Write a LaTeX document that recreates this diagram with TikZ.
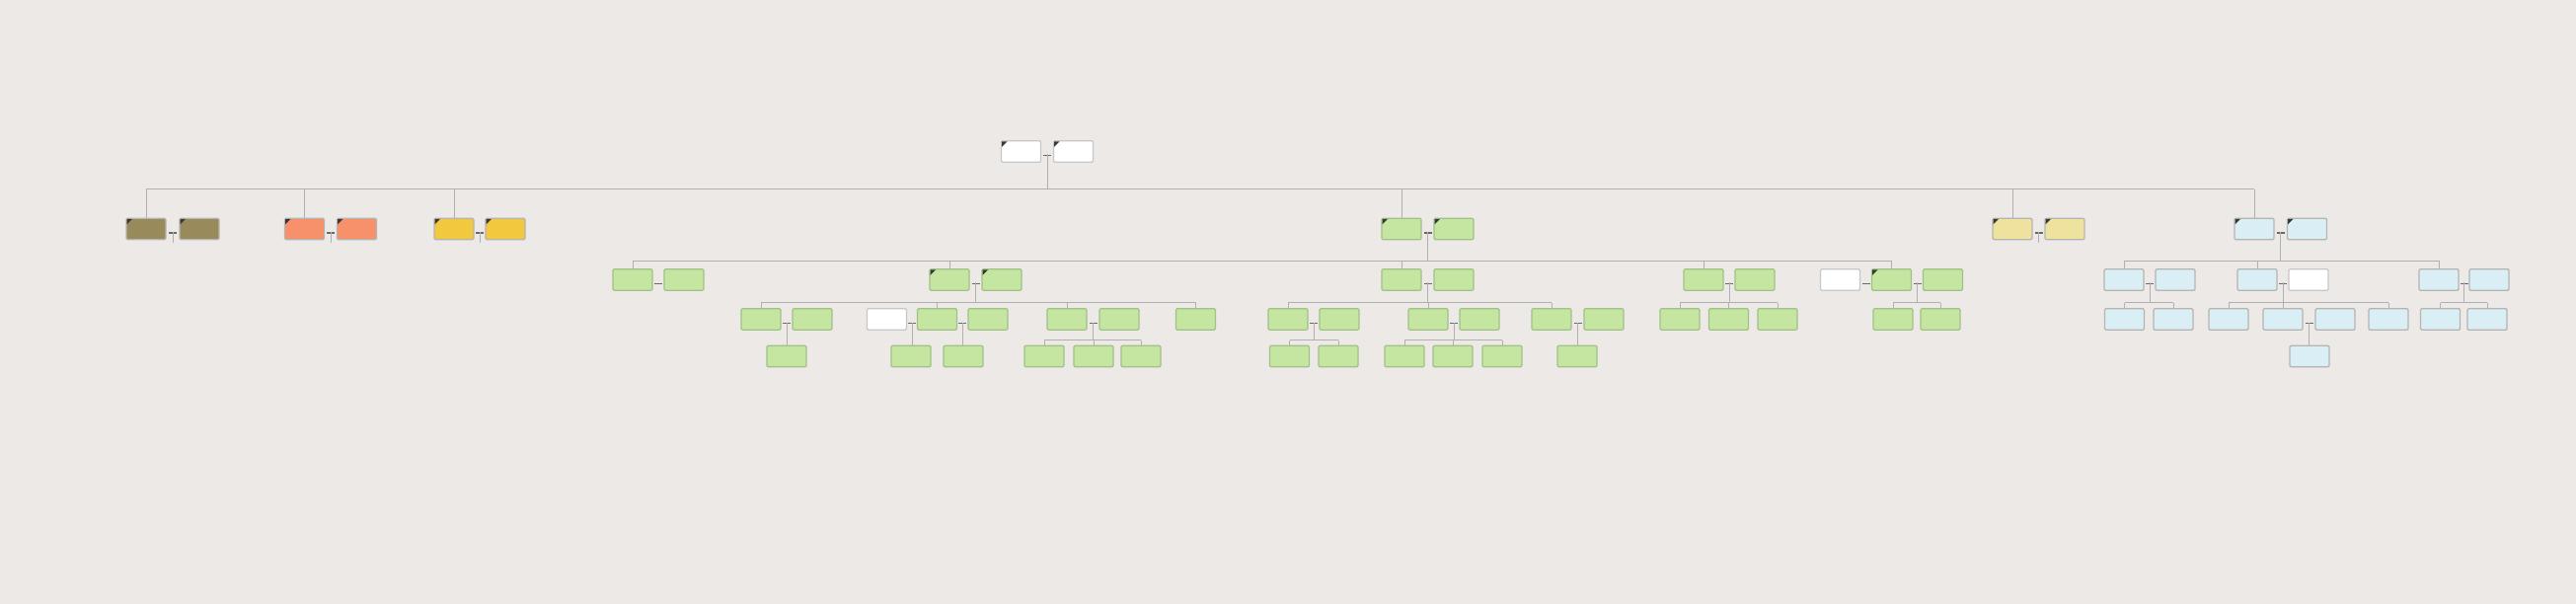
\documentclass[tikz,border=0pt]{standalone}
\usetikzlibrary{calc}
\definecolor{bgc}{RGB}{236,233,230}
\definecolor{lnc}{RGB}{176,176,176}
\definecolor{dshc}{RGB}{105,105,105}
\definecolor{mkc}{RGB}{55,55,55}
\definecolor{gfill}{RGB}{197,230,160}
\definecolor{gbdr}{RGB}{162,192,138}
\definecolor{brfill}{RGB}{152,138,90}
\definecolor{orfill}{RGB}{247,145,108}
\definecolor{yefill}{RGB}{242,200,62}
\definecolor{pyfill}{RGB}{239,226,158}
\definecolor{blfill}{RGB}{218,238,246}
\definecolor{gbd}{RGB}{182,180,176}
\tikzset{
  box/.style={draw=gbd, line width=1.3pt, rounded corners=1.2pt, minimum width=40pt,
    minimum height=21.5pt, inner sep=0pt, outer sep=0pt},
  gb/.style={box, fill=gfill, draw=gbdr},
  brb/.style={box, fill=brfill},
  orb/.style={box, fill=orfill},
  yeb/.style={box, fill=yefill},
  pyb/.style={box, fill=pyfill},
  blb/.style={box, fill=blfill},
  wb/.style={box, fill=white, draw=black!22},
  ln/.style={draw=lnc, line width=1pt},
  cpl/.style={draw=dshc, line width=1.2pt},
}
\newcommand\mk[1]{\fill[mkc] ([shift={(0.6,0.6)}]#1.north west) -- ++(5.5,0) -- ++(-5.5,5.5) -- cycle;}
\newcommand\cpla[3]{\coordinate (#3) at ($(#1.east)!0.5!(#2.west)+(0,4)$);
  \draw[cpl] ([xshift=-4pt]#3) -- ([xshift=4pt]#3);}
\begin{document}
\begin{tikzpicture}[x=1pt,y=-1pt]
\useasboundingbox (0,0) rectangle (2610,612);
\fill[bgc] (0,0) rectangle (2610,612);
% buses
\coordinate (bus0) at (0,192);
\coordinate (bus1) at (0,264.3);
\coordinate (bus2) at (0,306.7);
\coordinate (bus3) at (0,344.5);
% level 0
\node[wb] (r1) at (1034.5,153.5) {};
\node[wb] (r2) at (1087.5,153.5) {};
% level 1
\node[brb] (a1) at (148,232) {};
\node[brb] (a2) at (202,232) {};
\node[orb] (b1) at (308.5,232) {};
\node[orb] (b2) at (361.5,232) {};
\node[yeb] (c1) at (460,232) {};
\node[yeb] (c2) at (512,232) {};
\node[gb] (d1) at (1420,232) {};
\node[gb] (d2) at (1473,232) {};
\node[pyb] (e1) at (2039,232) {};
\node[pyb] (e2) at (2092,232) {};
\node[blb] (f1) at (2284,232) {};
\node[blb] (f2) at (2337.5,232) {};
% level 2
\node[gb] (g1) at (641,283.5) {};
\node[gb] (g2) at (693,283.5) {};
\node[gb] (h1) at (962,283.5) {};
\node[gb] (h2) at (1015,283.5) {};
\node[gb] (i1) at (1420,283.5) {};
\node[gb] (i2) at (1473,283.5) {};
\node[gb] (j1) at (1726,283.5) {};
\node[gb] (j2) at (1778,283.5) {};
\node[wb] (k0) at (1864.5,283.5) {};
\node[gb] (k1) at (1916.5,283.5) {};
\node[gb] (k2) at (1968.5,283.5) {};
\node[blb] (l1) at (2152,283.5) {};
\node[blb] (l2) at (2204,283.5) {};
\node[blb] (m1) at (2287,283.5) {};
\node[wb] (m2) at (2339,283.5) {};
\node[blb] (n1) at (2471,283.5) {};
\node[blb] (n2) at (2522,283.5) {};
% level 3
\node[gb] (o1) at (771,323.5) {};
\node[gb] (o2) at (823,323.5) {};
\node[wb] (p0) at (898.5,323.5) {};
\node[gb] (p1) at (949.5,323.5) {};
\node[gb] (p2) at (1001,323.5) {};
\node[gb] (q1) at (1081,323.5) {};
\node[gb] (q2) at (1134,323.5) {};
\node[gb] (s1) at (1211.5,323.5) {};
\node[gb] (t1) at (1305,323.5) {};
\node[gb] (t2) at (1357,323.5) {};
\node[gb] (u1) at (1447,323.5) {};
\node[gb] (u2) at (1499,323.5) {};
\node[gb] (v1) at (1572,323.5) {};
\node[gb] (v2) at (1625,323.5) {};
\node[gb] (w1) at (1702,323.5) {};
\node[gb] (w2) at (1751.5,323.5) {};
\node[gb] (w3) at (1801,323.5) {};
\node[gb] (x1) at (1918,323.5) {};
\node[gb] (x2) at (1966,323.5) {};
\node[blb] (y1) at (2152.5,323.5) {};
\node[blb] (y2) at (2202,323.5) {};
\node[blb] (z1) at (2258,323.5) {};
\node[blb] (z2) at (2313,323.5) {};
\node[blb] (z3) at (2366,323.5) {};
\node[blb] (z4) at (2420,323.5) {};
\node[blb] (aa1) at (2472.5,323.5) {};
\node[blb] (aa2) at (2520,323.5) {};
% level 4
\node[gb] (o4) at (797,361) {};
\node[gb] (p4a) at (923,361) {};
\node[gb] (p4b) at (976,361) {};
\node[gb] (q4a) at (1058,361) {};
\node[gb] (q4b) at (1108,361) {};
\node[gb] (q4c) at (1156,361) {};
\node[gb] (t4a) at (1306.5,361) {};
\node[gb] (t4b) at (1356,361) {};
\node[gb] (u4a) at (1423,361) {};
\node[gb] (u4b) at (1472,361) {};
\node[gb] (u4c) at (1522,361) {};
\node[gb] (v4) at (1598,361) {};
\node[blb] (z4b) at (2340,361) {};
% corner marks
\foreach \n in {r1,r2,a1,a2,b1,b2,c1,c2,d1,d2,e1,e2,f1,f2,h1,h2,k1} {\mk{\n}}
% couple dashes
\cpla{r1}{r2}{rm}
\cpla{a1}{a2}{am}
\cpla{b1}{b2}{bm}
\cpla{c1}{c2}{cm}
\cpla{d1}{d2}{dm}
\cpla{e1}{e2}{em}
\cpla{f1}{f2}{fm}
\cpla{g1}{g2}{gm}
\cpla{h1}{h2}{hm}
\cpla{i1}{i2}{im}
\cpla{j1}{j2}{jm}
\cpla{k0}{k1}{kma}
\cpla{k1}{k2}{km}
\cpla{l1}{l2}{lm}
\cpla{m1}{m2}{mm}
\cpla{n1}{n2}{nm}
\cpla{o1}{o2}{om}
\cpla{p0}{p1}{pma}
\cpla{p1}{p2}{pmb}
\cpla{q1}{q2}{qm}
\cpla{t1}{t2}{tm}
\cpla{u1}{u2}{um}
\cpla{v1}{v2}{vm}
\cpla{z2}{z3}{zm}
% stubs of childless couples
\foreach \m in {am,bm,cm,em} {\draw[ln] ([yshift=1pt]\m) -- ++(0,11);}
% root family
\draw[ln] ([yshift=1pt]rm) -- (rm |- bus0);
\draw[ln] (a1.north |- bus0) -- (f1.north |- bus0);
\foreach \c in {a1,b1,c1,d1,e1,f1} {\draw[ln] (\c.north |- bus0) -- (\c.north);}
% green level 2
\draw[ln] ([yshift=1pt]dm) -- (dm |- bus1);
\draw[ln] (g1.north |- bus1) -- (k1.north |- bus1);
\foreach \c in {g1,h1,i1,j1,k1} {\draw[ln] (\c.north |- bus1) -- (\c.north);}
% blue level 2
\draw[ln] ([yshift=1pt]fm) -- (fm |- bus1);
\draw[ln] (l1.north |- bus1) -- (n1.north |- bus1);
\foreach \c in {l1,m1,n1} {\draw[ln] (\c.north |- bus1) -- (\c.north);}
% level 3 families
\draw[ln] ([yshift=1pt]hm) -- (hm |- bus2);
\draw[ln] (o1.north |- bus2) -- (s1.north |- bus2);
\foreach \c in {o1,p1,q1,s1} {\draw[ln] (\c.north |- bus2) -- (\c.north);}
\draw[ln] ([yshift=1pt]im) -- (im |- bus2);
\draw[ln] (t1.north |- bus2) -- (v1.north |- bus2);
\foreach \c in {t1,u1,v1} {\draw[ln] (\c.north |- bus2) -- (\c.north);}
\draw[ln] ([yshift=1pt]jm) -- (jm |- bus2);
\draw[ln] (w1.north |- bus2) -- (w3.north |- bus2);
\foreach \c in {w1,w2,w3} {\draw[ln] (\c.north |- bus2) -- (\c.north);}
\draw[ln] ([yshift=1pt]km) -- (km |- bus2);
\draw[ln] (x1.north |- bus2) -- (x2.north |- bus2);
\foreach \c in {x1,x2} {\draw[ln] (\c.north |- bus2) -- (\c.north);}
\draw[ln] ([yshift=1pt]lm) -- (lm |- bus2);
\draw[ln] (y1.north |- bus2) -- (y2.north |- bus2);
\foreach \c in {y1,y2} {\draw[ln] (\c.north |- bus2) -- (\c.north);}
\draw[ln] ([yshift=1pt]mm) -- (mm |- bus2);
\draw[ln] (z1.north |- bus2) -- (z4.north |- bus2);
\foreach \c in {z1,z2,z4} {\draw[ln] (\c.north |- bus2) -- (\c.north);}
\draw[ln] ([yshift=1pt]nm) -- (nm |- bus2);
\draw[ln] (aa1.north |- bus2) -- (aa2.north |- bus2);
\foreach \c in {aa1,aa2} {\draw[ln] (\c.north |- bus2) -- (\c.north);}
% level 4 families
\draw[ln] ([yshift=1pt]om) -- (om |- o4.north);
\draw[ln] ([yshift=1pt]pma) -- (pma |- p4a.north);
\draw[ln] ([yshift=1pt]pmb) -- (pmb |- p4b.north);
\draw[ln] ([yshift=1pt]vm) -- (vm |- v4.north);
\draw[ln] ([yshift=1pt]zm) -- (zm |- z4b.north);
\draw[ln] ([yshift=1pt]qm) -- (qm |- bus3);
\draw[ln] (q4a.north |- bus3) -- (q4c.north |- bus3);
\foreach \c in {q4a,q4b,q4c} {\draw[ln] (\c.north |- bus3) -- (\c.north);}
\draw[ln] ([yshift=1pt]tm) -- (tm |- bus3);
\draw[ln] (t4a.north |- bus3) -- (t4b.north |- bus3);
\foreach \c in {t4a,t4b} {\draw[ln] (\c.north |- bus3) -- (\c.north);}
\draw[ln] ([yshift=1pt]um) -- (um |- bus3);
\draw[ln] (u4a.north |- bus3) -- (u4c.north |- bus3);
\foreach \c in {u4a,u4b,u4c} {\draw[ln] (\c.north |- bus3) -- (\c.north);}
\end{tikzpicture}
\end{document}
